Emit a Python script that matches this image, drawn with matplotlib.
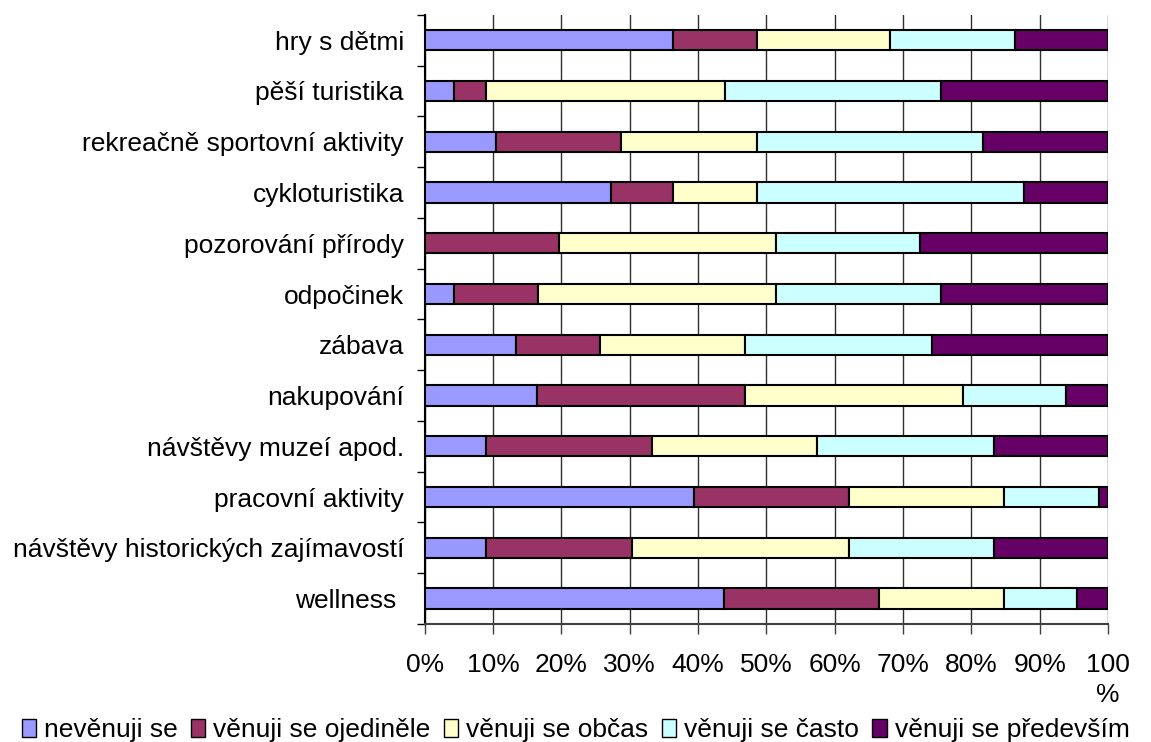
import numpy as np
import matplotlib.pyplot as plt
from matplotlib.patches import Patch

plt.rcParams['font.family'] = ['Liberation Sans', 'DejaVu Sans']

activities = ['hry s dětmi', 'pěší turistika', 'rekreačně sportovní aktivity',
              'cykloturistika', 'pozorování přírody', 'odpočinek', 'zábava',
              'nakupování', 'návštěvy muzeí apod.', 'pracovní aktivity',
              'návštěvy historických zajímavostí', 'wellness ']

nevenuji = [36.4, 4.3, 10.4, 27.2, 0.0, 4.3, 13.4, 16.5, 9.0, 39.4, 9.0, 43.8]
ojedinele = [12.2, 4.7, 18.3, 9.2, 19.6, 12.3, 12.2, 30.4, 24.3, 22.7, 21.3, 22.7]
obcas = [19.5, 34.9, 19.9, 12.2, 31.8, 34.8, 21.3, 31.8, 24.1, 22.6, 31.8, 18.2]
casto = [18.3, 31.7, 33.1, 39.1, 21.1, 24.2, 27.4, 15.1, 25.9, 13.9, 21.2, 10.8]
predevsim = [13.6, 24.4, 18.3, 12.3, 27.5, 24.4, 25.7, 6.2, 16.7, 1.4, 16.7, 4.5]

series_names = ['nevěnuji se', 'věnuji se ojediněle', 'věnuji se občas',
                'věnuji se často', 'věnuji se především']
colors = ['#9999FF', '#993366', '#FFFFCC', '#CCFFFF', '#660066']

x_labels = ['0%', '10%', '20%', '30%', '40%', '50%', '60%', '70%', '80%', '90%', '100\n%']

fig = plt.figure(figsize=(11.51, 7.42), dpi=100)
ax = fig.add_axes([0.369, 0.159, 0.5937, 0.821])

y = np.arange(len(activities))
left = np.zeros(len(activities))
for vals, col in zip([nevenuji, ojedinele, obcas, casto, predevsim], colors):
    vals = np.array(vals)
    ax.barh(y, vals, left=left, height=0.4, color=col, edgecolor='black',
            linewidth=1.5, zorder=3)
    left += vals

ax.set_xlim(0, 100)
ax.set_ylim(len(activities) - 0.5, -0.5)

ax.set_xticks(np.arange(0, 101, 10))
ax.set_xticklabels(x_labels, fontsize=19, linespacing=1.3, va='top')
ax.tick_params(axis='x', length=7, width=1, pad=14, color='#404040')
ax.xaxis.grid(True, color='#303030', linewidth=1, zorder=0)

ax.set_yticks(y)
ax.set_yticklabels(activities, fontsize=19)
ax.tick_params(axis='y', which='major', length=0, pad=15)
# short marks between the categories
ax.set_yticks(np.arange(-0.5, len(activities), 1), minor=True)
ax.tick_params(axis='y', which='minor', length=6, width=1, color='black')

for s in ['top', 'right']:
    ax.spines[s].set_visible(False)
ax.spines['left'].set_linewidth(1.5)
ax.spines['bottom'].set_color('#404040')
ax.spines['bottom'].set_linewidth(1.5)

handles = [Patch(facecolor=c, edgecolor='black', linewidth=1) for c in colors]
fig.legend(handles, series_names, loc='lower center', ncol=5, fontsize=19,
           frameon=False, handlelength=0.55, handleheight=0.7, handletextpad=0.3,
           columnspacing=0.5, borderaxespad=0.1, bbox_to_anchor=(0.5, -0.018))

fig.savefig('out.png', dpi=100)
